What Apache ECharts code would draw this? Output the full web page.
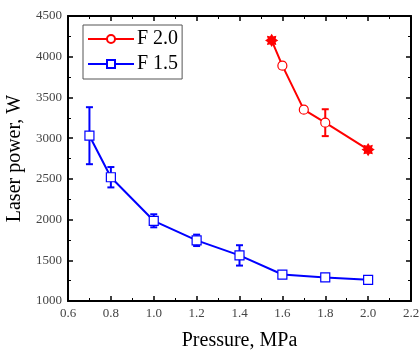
<!DOCTYPE html>
<html>
<head>
<meta charset="utf-8">
<script src="https://cdn.jsdelivr.net/npm/echarts@6.0.0/dist/echarts.min.js"></script>
<style>
  html, body { margin: 0; padding: 0; background: #fff; }
  #chart { width: 420px; height: 350px; }
</style>
</head>
<body>
<div id="chart"></div>
<script>
// F 2.0 (red)
var pressureF20 = [1.55, 1.6, 1.7, 1.8, 2.0];
var powerF20 = [4200, 3890, 3350, 3190, 2860];
var errF20 = [20, 35, 30, 165, 20];

// F 1.5 (blue)
var pressureF15 = [0.7, 0.8, 1.0, 1.2, 1.4, 1.6, 1.8, 2.0];
var powerF15 = [3030, 2520, 1985, 1745, 1560, 1325, 1290, 1260];
var errF15 = [350, 125, 80, 70, 125, 30, 25, 25];

var serif = '"Liberation Serif", "DejaVu Serif", serif';

// blunt 8-point star marker for the end points of the red curve
function starPath() {
    var pts = [];
    for (var i = 0; i < 16; i++) {
        var r = (i % 2 === 0) ? 10 : 6.5;
        var a = Math.PI / 8 * i - Math.PI / 2;
        pts.push((10 + r * Math.cos(a)).toFixed(2) + ',' + (10 + r * Math.sin(a)).toFixed(2));
    }
    return 'path://M' + pts.join('L') + 'Z';
}
var STAR = starPath();

function pairs(xs, ys) {
    return xs.map(function (x, i) { return [x, ys[i]]; });
}

function errData(xs, ys, es) {
    return xs.map(function (x, i) { return [x, ys[i] - es[i], ys[i] + es[i]]; });
}

function errSeries(name, color, data) {
    return {
        type: 'custom',
        name: name + ' err',
        data: data,
        z: 1,
        silent: true,
        encode: { x: 0, y: [1, 2] },
        renderItem: function (params, api) {
            var x = api.value(0);
            var lo = api.coord([x, api.value(1)]);
            var hi = api.coord([x, api.value(2)]);
            var w = 3.5;
            var style = { stroke: color, lineWidth: 2 };
            return {
                type: 'group',
                children: [
                    { type: 'line', shape: { x1: lo[0], y1: lo[1], x2: hi[0], y2: hi[1] }, style: style },
                    { type: 'line', shape: { x1: lo[0] - w, y1: lo[1], x2: lo[0] + w, y2: lo[1] }, style: style },
                    { type: 'line', shape: { x1: hi[0] - w, y1: hi[1], x2: hi[0] + w, y2: hi[1] }, style: style }
                ]
            };
        }
    };
}

var redData = pairs(pressureF20, powerF20).map(function (p, i) {
    var item = { value: p };
    if (i === 0 || i === pressureF20.length - 1) {
        item.symbol = STAR;
        item.symbolSize = 11;
        item.itemStyle = { color: '#ff0000' };
    }
    return item;
});

var axisCommon = {
    axisLine: { show: true, lineStyle: { color: '#000', width: 2 } },
    axisTick: { show: true, inside: true, length: 5, lineStyle: { color: '#000', width: 1.5 } },
    minorTick: { show: true, splitNumber: 2, length: 3, lineStyle: { color: '#000', width: 1 } },
    splitLine: { show: false }
};

var myChart = echarts.init(document.getElementById('chart'));
var option = {
    animation: false,
    backgroundColor: '#fff',
    grid: { left: 68, right: 9, top: 16, bottom: 49, outerBoundsMode: 'none', containLabel: false },
    legend: {
        orient: 'vertical',
        left: 83,
        top: 25,
        padding: [4, 4, 5, 4],
        itemGap: 5,
        itemWidth: 46,
        itemHeight: 10,
        borderColor: '#555',
        borderWidth: 1,
        data: ['F 2.0', 'F 1.5'],
        textStyle: { fontFamily: serif, fontSize: 20, color: '#000', padding: [0, 0, 0, -2] }
    },
    xAxis: [
        Object.assign({
            type: 'value', min: 0.6, max: 2.2, interval: 0.2,
            name: 'Pressure, MPa', nameLocation: 'middle', nameGap: 30,
            nameTextStyle: { fontFamily: serif, fontSize: 20, color: '#000' },
            axisLabel: {
                fontFamily: serif, fontSize: 13, color: '#444', margin: 6,
                formatter: function (v) { return v.toFixed(1); }
            }
        }, axisCommon),
        Object.assign({
            type: 'value', min: 0.6, max: 2.2, interval: 0.2, position: 'top',
            axisLabel: { show: false }
        }, axisCommon)
    ],
    yAxis: [
        Object.assign({
            type: 'value', min: 1000, max: 4500, interval: 500,
            name: 'Laser power, W', nameLocation: 'middle', nameGap: 39,
            nameTextStyle: { fontFamily: serif, fontSize: 20, color: '#000' },
            axisLabel: {
                fontFamily: serif, fontSize: 13, color: '#444', margin: 6,
                formatter: function (v) { return String(v); }
            }
        }, axisCommon),
        Object.assign({
            type: 'value', min: 1000, max: 4500, interval: 500, position: 'right',
            axisLabel: { show: false }
        }, axisCommon)
    ],
    series: [
        errSeries('F 2.0', '#ff0000', errData(pressureF20, powerF20, errF20)),
        errSeries('F 1.5', '#0000ff', errData(pressureF15, powerF15, errF15)),
        {
            name: 'F 2.0',
            type: 'line',
            data: redData,
            symbol: 'circle',
            symbolSize: 9,
            showAllSymbol: true,
            z: 3,
            lineStyle: { color: '#ff0000', width: 2 },
            itemStyle: { color: '#fff', borderColor: '#ff0000', borderWidth: 1.2 },
            color: '#ff0000'
        },
        {
            name: 'F 1.5',
            type: 'line',
            data: pairs(pressureF15, powerF15),
            symbol: 'rect',
            symbolSize: 9,
            showAllSymbol: true,
            z: 3,
            lineStyle: { color: '#0000ff', width: 2 },
            itemStyle: { color: '#fff', borderColor: '#0000ff', borderWidth: 1.2 },
            color: '#0000ff'
        }
    ]
};
myChart.setOption(option);
</script>
</body>
</html>
